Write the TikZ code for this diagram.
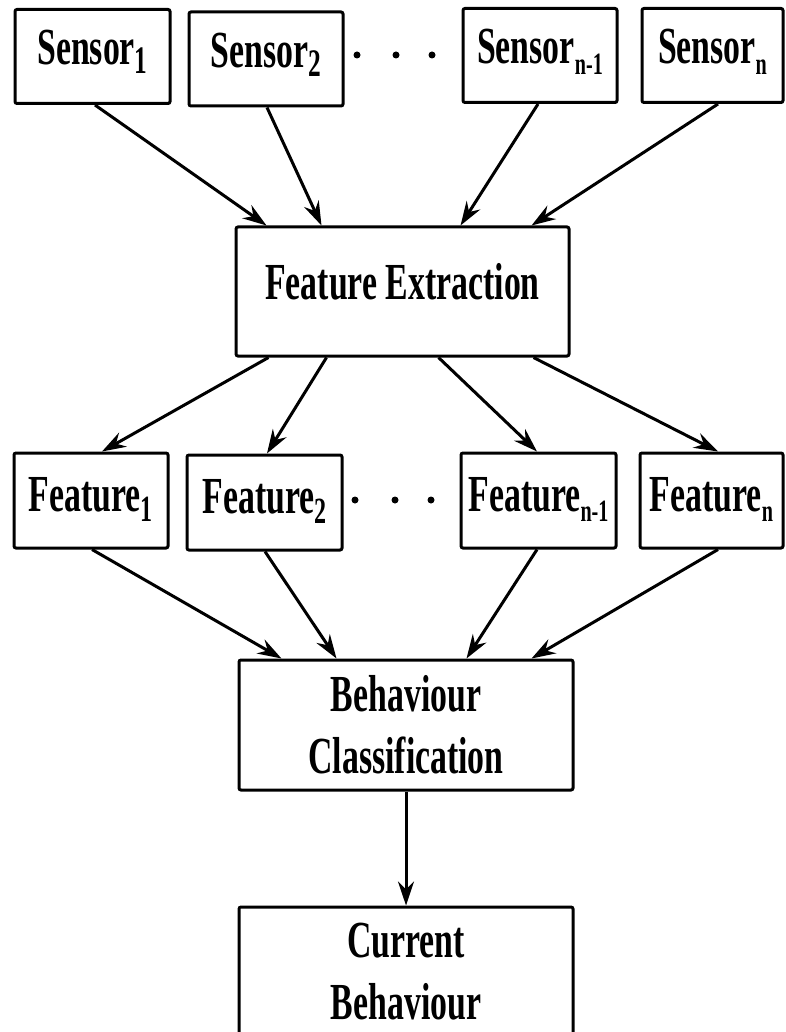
\documentclass[tikz,border=0pt]{standalone}
\usepackage{fontspec}
\setmainfont{Liberation Serif}[FakeStretch=0.65]
\usetikzlibrary{arrows.meta,calc}
% lowered index: #1 font size, #2 drop in pt, #3 text
\newcommand\lowidx[3]{\raisebox{-#2pt}{\fontsize{#1}{#1}\selectfont #3}}

\begin{document}
\begin{tikzpicture}[x=1pt,y=-1pt,
  box/.style={draw, line width=3pt, rounded corners=2pt, inner sep=0pt,
    font=\fontsize{52}{62}\selectfont\bfseries, align=center},
  sensorbox/.style={box, minimum height=94pt, text height=34pt, text depth=17pt},
  featbox/.style={box, minimum height=95pt, text height=36pt, text depth=15pt},
  flow/.style={line width=3pt, -{Stealth[length=24pt,width=16pt,inset=8pt]}},
  dot/.style={fill=black}]
\useasboundingbox (0,0) rectangle (786,1032);

% sensors
\node[sensorbox, minimum width=155pt] (s1)  at (92.5,56.5) {Sensor\lowidx{39}{9}{1}};
\node[sensorbox, minimum width=154pt] (s2)  at (266,59)    {Sensor\lowidx{39}{9}{2}};
\node[sensorbox, minimum width=154pt] (sn1) at (540,55.5)  {Sensor\lowidx{31}{11}{n-1}};
\node[sensorbox, minimum width=141pt] (sn)  at (712.5,55.5){Sensor\lowidx{31}{11}{n}};
\foreach \x in {357,396,432} \fill[dot] (\x,55) circle (3.5);

% feature extraction
\node[box, minimum width=333pt, minimum height=129pt, text height=34pt, text depth=19pt]
  (fe) at (402.5,291.5) {Feature Extraction};

% features
\node[featbox, minimum width=154pt] (f1)  at (91,500.5)    {Feature\lowidx{37}{10}{1}};
\node[featbox, minimum width=155pt] (f2)  at (264.5,502.5) {Feature\lowidx{37}{10}{2}};
\node[featbox, minimum width=155pt] (fn1) at (538.5,500.5) {Feature\lowidx{31}{10}{n-1}};
\node[featbox, minimum width=143pt] (fn)  at (711.5,500.5) {Feature\lowidx{31}{10}{n}};
\foreach \x in {355,395,431} \fill[dot] (\x,500) circle (3.5);

% classification and result
\node[box, minimum width=334pt, minimum height=130pt] (bc) at (406,725) {Behaviour\\Classification};
\node[box, minimum width=334pt, minimum height=130pt] (cb) at (406,972) {Current\\Behaviour};

% sensors -> feature extraction
\draw[flow] ($(s1.south)+(2.5,0)$)  -- ($(fe.north west)+(32,0)$);
\draw[flow] ($(s2.south)+(1,0)$)    -- ($(fe.north west)+(87,0)$);
\draw[flow] ($(sn1.south)+(-2,0)$)  -- ($(fe.north west)+(226,0)$);
\draw[flow] ($(sn.south)+(5.5,0)$)  -- ($(fe.north west)+(297,0)$);

% feature extraction -> features
\draw[flow] ($(fe.south west)+(34,0)$)  -- ($(f1.north)+(11,0)$);
\draw[flow] ($(fe.south west)+(92,0)$)  -- ($(f2.north)+(2.5,0)$);
\draw[flow] ($(fe.south west)+(204,0)$) -- ($(fn1.north)+(-1.5,0)$);
\draw[flow] ($(fe.south west)+(299,0)$) -- ($(fn.north)+(6.5,0)$);

% features -> classification
\draw[flow] ($(f1.south)+(1,0)$)    -- ($(bc.north west)+(44,0)$);
\draw[flow] ($(f2.south)+(0.5,0)$)  -- ($(bc.north west)+(99,0)$);
\draw[flow] ($(fn1.south)+(-1.5,0)$)-- ($(bc.north west)+(229,0)$);
\draw[flow] ($(fn.south)+(6.5,0)$)  -- ($(bc.north west)+(294,0)$);

% classification -> current behaviour
\draw[flow] (bc.south) -- (cb.north);
\end{tikzpicture}
\end{document}
